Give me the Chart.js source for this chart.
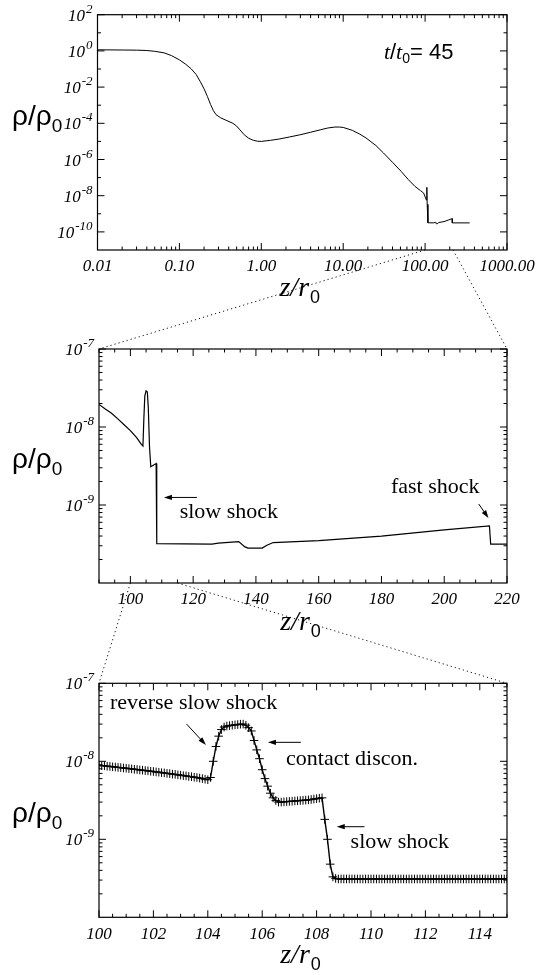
<!DOCTYPE html>
<html>
<head>
<meta charset="utf-8">
<script src="https://cdn.jsdelivr.net/npm/chart.js@4.4.1/dist/chart.umd.min.js"></script>
<style>
  html, body { margin: 0; padding: 0; background: #fff; }
  #wrap { position: relative; width: 547px; height: 975px; background: #fff; }
  canvas { position: absolute; left: 0; top: 0; }
</style>
</head>
<body>
<div id="wrap">
  <canvas id="p1" width="547" height="975"></canvas>
  <canvas id="p2" width="547" height="975"></canvas>
  <canvas id="p3" width="547" height="975"></canvas>
</div>
<script>
// ---- panel 1: whole jet, log-log ----
const z1 = [0.01, 0.02, 0.03, 0.04, 0.05, 0.065, 0.08, 0.1, 0.12, 0.14,
            0.16, 0.18, 0.2, 0.22, 0.24, 0.26, 0.28, 0.32, 0.38, 0.45,
            0.5, 0.55, 0.62, 0.7, 0.8, 0.9, 1.0, 1.3, 1.65, 2.2,
            2.95, 4, 5.3, 6.5, 7.9, 9, 10, 12.9, 16, 19,
            25, 31, 40, 51, 62, 75, 88, 96, 103.8, 105,
            106.1, 108.2, 108.4, 126, 135, 137, 143, 146, 170, 192,
            214.4, 214.8, 350];
const rho1 = [1.15, 1.12, 1.1, 1.05, 0.95, 0.78, 0.55, 0.32, 0.18, 0.1,
              0.05, 0.02, 0.008, 0.003, 0.0011, 5e-4, 3e-4, 2e-4, 1.4e-4, 1.0e-4,
              7e-5, 4.3e-5, 2.3e-5, 1.5e-5, 1.15e-5, 1.02e-5, 1.0e-5, 1.15e-5, 1.35e-5, 1.75e-5,
              2.3e-5, 3.2e-5, 4.4e-5, 5.5e-5, 6.2e-5, 6.2e-5, 5.9e-5, 4.1e-5, 2.5e-5, 1.55e-5,
              6e-6, 2.3e-6, 7e-7, 2.2e-7, 8e-8, 3.3e-8, 1.9e-8, 1.4e-8, 5.7e-9, 2.9e-8,
              3e-9, 3.3e-9, 3.2e-10, 3.15e-10, 3.4e-10, 2.8e-10, 2.9e-10, 3.3e-10, 3.7e-10, 4.5e-10,
              5.4e-10, 3.15e-10, 3.15e-10];
const xTicks1 = [0.01, 0.1, 1, 10, 100, 1000];
const xLabels1 = ['0.01', '0.10', '1.00', '10.00', '100.00', '1000.00'];
const yExp1 = [2, 0, -2, -4, -6, -8, -10];

// ---- panel 2: zoom 90..220 ----
const z2 = [90, 92, 94, 96, 98, 100, 102, 103.5, 104.0, 104.3,
            104.6, 105.0, 105.4, 105.7, 106.1, 106.5, 108.2, 108.4, 126, 128,
            134.5, 136.5, 137.5, 142, 143.5, 145.5, 160, 180, 200, 214.4,
            214.8, 220];
const rho2 = [1.95e-8, 1.7e-8, 1.5e-8, 1.27e-8, 1.07e-8, 9e-9, 7.3e-9, 6.0e-9, 5.7e-9, 1.3e-8,
              2.5e-8, 2.9e-8, 2.8e-8, 1.8e-8, 5.5e-9, 3.1e-9, 3.4e-9, 3.2e-10, 3.15e-10, 3.25e-10,
              3.4e-10, 2.9e-10, 2.8e-10, 2.8e-10, 3.05e-10, 3.3e-10, 3.5e-10, 4.0e-10, 4.8e-10, 5.4e-10,
              3.15e-10, 3.15e-10];
const xTicks2 = [100, 120, 140, 160, 180, 200, 220];
const xLabels2 = ['100', '120', '140', '160', '180', '200', '220'];
const yExp2 = [-7, -8, -9];

// ---- panel 3: grid points 100..115 ----
const z3 = [100.0, 100.1, 100.2, 100.3, 100.4, 100.5, 100.6, 100.7, 100.8, 100.9,
            101.0, 101.1, 101.2, 101.3, 101.4, 101.5, 101.6, 101.7, 101.8, 101.9,
            102.0, 102.1, 102.2, 102.3, 102.4, 102.5, 102.6, 102.7, 102.8, 102.9,
            103.0, 103.1, 103.2, 103.3, 103.4, 103.5, 103.6, 103.7, 103.8, 103.9,
            104.0, 104.1, 104.2, 104.3, 104.4, 104.5, 104.6, 104.7, 104.8, 104.9,
            105.0, 105.1, 105.2, 105.3, 105.4, 105.5, 105.6, 105.7, 105.8, 105.9,
            106.0, 106.1, 106.2, 106.3, 106.4, 106.5, 106.6, 106.7, 106.8, 106.9,
            107.0, 107.1, 107.2, 107.3, 107.4, 107.5, 107.6, 107.7, 107.8, 107.9,
            108.0, 108.1, 108.2, 108.3, 108.4, 108.5, 108.6, 108.7, 108.8, 108.9,
            109.0, 109.1, 109.2, 109.3, 109.4, 109.5, 109.6, 109.7, 109.8, 109.9,
            110.0, 110.1, 110.2, 110.3, 110.4, 110.5, 110.6, 110.7, 110.8, 110.9,
            111.0, 111.1, 111.2, 111.3, 111.4, 111.5, 111.6, 111.7, 111.8, 111.9,
            112.0, 112.1, 112.2, 112.3, 112.4, 112.5, 112.6, 112.7, 112.8, 112.9,
            113.0, 113.1, 113.2, 113.3, 113.4, 113.5, 113.6, 113.7, 113.8, 113.9,
            114.0, 114.1, 114.2, 114.3, 114.4, 114.5, 114.6, 114.7, 114.8, 114.9,
            115.0];
const rho3 = [8.9e-9, 8.8e-9, 8.75e-9, 8.65e-9, 8.6e-9, 8.5e-9, 8.45e-9, 8.35e-9, 8.3e-9, 8.2e-9,
              8.15e-9, 8.05e-9, 8.0e-9, 7.9e-9, 7.85e-9, 7.75e-9, 7.7e-9, 7.6e-9, 7.55e-9, 7.45e-9,
              7.4e-9, 7.3e-9, 7.25e-9, 7.15e-9, 7.1e-9, 7.0e-9, 6.95e-9, 6.85e-9, 6.8e-9, 6.7e-9,
              6.65e-9, 6.55e-9, 6.5e-9, 6.4e-9, 6.35e-9, 6.25e-9, 6.2e-9, 6.1e-9, 6.0e-9, 5.9e-9,
              5.8e-9, 6.2e-9, 1.0e-8, 1.55e-8, 2.1e-8, 2.55e-8, 2.75e-8, 2.83e-8, 2.87e-8, 2.9e-8,
              2.93e-8, 2.96e-8, 2.99e-8, 3.0e-8, 2.9e-8, 2.7e-8, 2.45e-8, 1.85e-8, 1.4e-8, 1.08e-8,
              7.8e-9, 6.0e-9, 4.8e-9, 3.9e-9, 3.4e-9, 3.15e-9, 3.0e-9, 3.0e-9, 3.02e-9, 3.04e-9,
              3.06e-9, 3.08e-9, 3.1e-9, 3.12e-9, 3.14e-9, 3.16e-9, 3.18e-9, 3.2e-9, 3.24e-9, 3.28e-9,
              3.32e-9, 3.36e-9, 3.4e-9, 1.8e-9, 1.0e-9, 4.8e-10, 3.3e-10, 3.15e-10, 3.1e-10, 3.1e-10,
              3.1e-10, 3.1e-10, 3.1e-10, 3.1e-10, 3.1e-10, 3.1e-10, 3.1e-10, 3.1e-10, 3.1e-10, 3.1e-10,
              3.1e-10, 3.1e-10, 3.1e-10, 3.1e-10, 3.1e-10, 3.1e-10, 3.1e-10, 3.1e-10, 3.1e-10, 3.1e-10,
              3.1e-10, 3.1e-10, 3.1e-10, 3.1e-10, 3.1e-10, 3.1e-10, 3.1e-10, 3.1e-10, 3.1e-10, 3.1e-10,
              3.1e-10, 3.1e-10, 3.1e-10, 3.1e-10, 3.1e-10, 3.1e-10, 3.1e-10, 3.1e-10, 3.1e-10, 3.1e-10,
              3.1e-10, 3.1e-10, 3.1e-10, 3.1e-10, 3.1e-10, 3.1e-10, 3.1e-10, 3.1e-10, 3.1e-10, 3.1e-10,
              3.1e-10, 3.1e-10, 3.1e-10, 3.1e-10, 3.1e-10, 3.1e-10, 3.1e-10, 3.1e-10, 3.1e-10, 3.1e-10,
              3.1e-10];
const xTicks3 = [100, 102, 104, 106, 108, 110, 112, 114];
const xLabels3 = ['100', '102', '104', '106', '108', '110', '112', '114'];
const yExp3 = [-7, -8, -9];

// z ranges blown up in the panel below
const zoomA = [100, 220];
const zoomB = [100, 115];

const SERIF = '"Liberation Serif", "Times New Roman", serif';
const SANS = '"Liberation Sans", Arial, sans-serif';

function logMinors(lo, hi) {
  let out = [];
  for (let e = lo; e < hi; e++) {
    for (let m = 2; m < 10; m++) out.push(m * Math.pow(10, e));
  }
  return out;
}
function steps(a, b, s) {
  let out = [];
  for (let v = a; v <= b + 1e-9; v += s) out.push(+v.toFixed(4));
  return out;
}

// decoration for each panel
const panels = {
  p1: {
    xMajor: xTicks1, xLabels: xLabels1, xMinor: logMinors(-2, 3),
    yMajor: yExp1.map(e => Math.pow(10, e)), yExp: yExp1,
    yMinor: [10, 0.1, 1e-3, 1e-5, 1e-7, 1e-9],
    labelY: 267, xTitleY: 296, yTitleY: 125,
    texts: [], arrows: [], time: {z: 31.4, v: 0.91}
  },
  p2: {
    xMajor: xTicks2, xLabels: xLabels2, xMinor: steps(90, 220, 5).filter(v => v % 20 !== 0),
    yMajor: yExp2.map(e => Math.pow(10, e)), yExp: yExp2,
    yMinor: logMinors(-10, -7),
    labelY: 600, xTitleY: 630, yTitleY: 468,
    texts: [{t: 'slow shock', z: 115.7, v: 8.1e-10}, {t: 'fast shock', z: 183, v: 1.69e-9}],
    arrows: [[121.2, 1.25e-9, 110.7, 1.25e-9], [211, 1.03e-9, 214.1, 6.8e-10]]
  },
  p3: {
    xMajor: xTicks3, xLabels: xLabels3, xMinor: steps(100, 115, 0.5).filter(v => v % 2 !== 0),
    yMajor: yExp3.map(e => Math.pow(10, e)), yExp: yExp3,
    yMinor: logMinors(-10, -7),
    labelY: 935, xTitleY: 963, yTitleY: 822,
    texts: [{t: 'reverse slow shock', z: 100.4, v: 5.6e-8},
            {t: 'contact discon.', z: 106.875, v: 1.06e-8},
            {t: 'slow shock', z: 109.25, v: 9.2e-10}],
    arrows: [[103.22, 3.0e-8, 103.93, 1.62e-8], [107.42, 1.75e-8, 106.21, 1.75e-8],
             [109.76, 1.45e-9, 108.74, 1.45e-9]]
  }
};

function arrow(ctx, x1, y1, x2, y2) {
  const ang = Math.atan2(y2 - y1, x2 - x1);
  ctx.beginPath();
  ctx.moveTo(x1, y1);
  ctx.lineTo(x2 - 6 * Math.cos(ang), y2 - 6 * Math.sin(ang));
  ctx.stroke();
  ctx.beginPath();
  ctx.moveTo(x2, y2);
  ctx.lineTo(x2 - 8 * Math.cos(ang) + 2.6 * Math.sin(ang), y2 - 8 * Math.sin(ang) - 2.6 * Math.cos(ang));
  ctx.lineTo(x2 - 8 * Math.cos(ang) - 2.6 * Math.sin(ang), y2 - 8 * Math.sin(ang) + 2.6 * Math.cos(ang));
  ctx.closePath();
  ctx.fill();
}

const framePlugin = {
  id: 'frame',
  afterDraw(chart) {
    const cfg = panels[chart.canvas.id];
    const ctx = chart.ctx;
    const a = chart.chartArea;
    const xs = chart.scales.x, ys = chart.scales.y;
    ctx.save();
    ctx.strokeStyle = '#000';
    ctx.fillStyle = '#000';
    ctx.lineWidth = 1.2;
    ctx.strokeRect(a.left, a.top, a.right - a.left, a.bottom - a.top);

    // inward ticks on all four sides
    ctx.lineWidth = 1;
    ctx.beginPath();
    const xt = (v, len) => {
      const p = xs.getPixelForValue(v);
      ctx.moveTo(p, a.bottom); ctx.lineTo(p, a.bottom - len);
      ctx.moveTo(p, a.top); ctx.lineTo(p, a.top + len);
    };
    const yt = (v, len) => {
      const p = ys.getPixelForValue(v);
      ctx.moveTo(a.left, p); ctx.lineTo(a.left + len, p);
      ctx.moveTo(a.right, p); ctx.lineTo(a.right - len, p);
    };
    cfg.xMajor.forEach(v => xt(v, 7));
    cfg.xMinor.forEach(v => xt(v, 3.5));
    cfg.yMajor.forEach(v => yt(v, 7));
    cfg.yMinor.forEach(v => yt(v, 3.5));
    ctx.stroke();

    // x tick labels
    ctx.font = 'italic 17px ' + SERIF;
    ctx.textAlign = 'center';
    ctx.textBaseline = 'middle';
    cfg.xMajor.forEach((v, i) => ctx.fillText(cfg.xLabels[i], xs.getPixelForValue(v), cfg.labelY));

    // y tick labels 10^n
    ctx.textBaseline = 'alphabetic';
    ctx.textAlign = 'left';
    cfg.yMajor.forEach((v, i) => {
      const p = ys.getPixelForValue(v);
      const ex = String(cfg.yExp[i]);
      ctx.font = 'italic 13px ' + SERIF;
      const ew = ctx.measureText(ex).width;
      ctx.font = 'italic 17px ' + SERIF;
      const bw = ctx.measureText('10').width;
      const right = a.left - 5;
      ctx.fillText('10', right - ew - bw - 1, p + 6);
      ctx.font = 'italic 13px ' + SERIF;
      ctx.fillText(ex, right - ew, p - 2);
    });

    // y title  rho/rho_0
    ctx.font = '28px ' + SANS;
    let x = 12;
    ctx.fillText('\u03c1/\u03c1', x, cfg.yTitleY);
    x += ctx.measureText('\u03c1/\u03c1').width;
    ctx.font = '19px ' + SANS;
    ctx.fillText('0', x, cfg.yTitleY + 7);

    // x title  z/r_0
    const mid = (a.left + a.right) / 2 - 3;
    ctx.font = 'italic 28px ' + SERIF;
    const w1 = ctx.measureText('z/r').width;
    ctx.font = '18px ' + SANS;
    const w2 = ctx.measureText('0').width;
    x = mid - (w1 + w2) / 2;
    ctx.font = 'italic 28px ' + SERIF;
    ctx.fillText('z/r', x, cfg.xTitleY);
    ctx.font = '18px ' + SANS;
    ctx.fillText('0', x + w1 + 1, cfg.xTitleY + 7);

    // annotations
    ctx.font = '22px ' + SERIF;
    ctx.textBaseline = 'middle';
    cfg.texts.forEach(t => ctx.fillText(t.t, xs.getPixelForValue(t.z), ys.getPixelForValue(t.v)));
    ctx.lineWidth = 1;
    cfg.arrows.forEach(r => arrow(ctx, xs.getPixelForValue(r[0]), ys.getPixelForValue(r[1]),
                                  xs.getPixelForValue(r[2]), ys.getPixelForValue(r[3])));
    if (cfg.time) {
      let tx = xs.getPixelForValue(cfg.time.z);
      const ty = ys.getPixelForValue(cfg.time.v) + 7;
      ctx.textBaseline = 'alphabetic';
      ctx.font = 'italic 22px ' + SERIF;
      ctx.fillText('t', tx, ty); tx += ctx.measureText('t').width;
      ctx.font = '22px ' + SANS;
      ctx.fillText('/', tx, ty); tx += ctx.measureText('/').width;
      ctx.font = 'italic 22px ' + SERIF;
      ctx.fillText('t', tx, ty); tx += ctx.measureText('t').width;
      ctx.font = '14px ' + SANS;
      ctx.fillText('0', tx, ty + 4); tx += ctx.measureText('0').width;
      ctx.font = '22px ' + SANS;
      ctx.fillText('= 45', tx, ty);
    }
    ctx.restore();
  }
};

let chart1, chart2, chart3;

// dotted zoom connectors, drawn on the top canvas
const connectorPlugin = {
  id: 'connector',
  afterDraw(chart) {
    if (!chart1 || !chart2) return;
    const ctx = chart.ctx;
    const a1 = chart1.chartArea, a2 = chart2.chartArea, a3 = chart.chartArea;
    ctx.save();
    ctx.strokeStyle = '#111';
    ctx.lineWidth = 1;
    ctx.setLineDash([1.2, 3]);
    ctx.beginPath();
    ctx.moveTo(chart1.scales.x.getPixelForValue(zoomA[0]), a1.bottom); ctx.lineTo(a2.left, a2.top);
    ctx.moveTo(chart1.scales.x.getPixelForValue(zoomA[1]), a1.bottom); ctx.lineTo(a2.right, a2.top);
    ctx.moveTo(chart2.scales.x.getPixelForValue(zoomB[0]), a2.bottom); ctx.lineTo(a3.left, a3.top);
    ctx.moveTo(chart2.scales.x.getPixelForValue(zoomB[1]), a2.bottom); ctx.lineTo(a3.right, a3.top);
    ctx.stroke();
    ctx.restore();
  }
};

function makeChart(id, xs, ys, xScale, yScale, pad, extra) {
  const pts = xs.map((v, i) => ({x: v, y: ys[i]}));
  const ds = Object.assign({
    data: pts, showLine: true, borderColor: '#000', borderWidth: 1,
    pointRadius: 0, tension: 0
  }, extra || {});
  return new Chart(document.getElementById(id), {
    type: 'scatter',
    data: {datasets: [ds]},
    options: {
      responsive: false,
      animation: false,
      events: [],
      layout: {padding: pad},
      plugins: {legend: {display: false}, tooltip: {enabled: false}},
      scales: {
        x: Object.assign({display: false}, xScale),
        y: Object.assign({display: false}, yScale)
      }
    },
    plugins: id === 'p3' ? [framePlugin, connectorPlugin] : [framePlugin]
  });
}

chart1 = makeChart('p1', z1, rho1,
  {type: 'logarithmic', min: 0.01, max: 1000},
  {type: 'logarithmic', min: 1e-11, max: 100},
  {left: 97.5, top: 14.7, right: 40, bottom: 725});

chart2 = makeChart('p2', z2, rho2,
  {type: 'linear', min: 90, max: 220},
  {type: 'logarithmic', min: 1e-10, max: 1e-7},
  {left: 99, top: 349, right: 40, bottom: 392}, {borderWidth: 1.2});

chart3 = makeChart('p3', z3, rho3,
  {type: 'linear', min: 100, max: 115},
  {type: 'logarithmic', min: 1e-10, max: 1e-7},
  {left: 99, top: 683.3, right: 40, bottom: 57.7},
  {borderWidth: 1.4, pointStyle: 'cross', pointRadius: 4.3, pointBorderWidth: 1, pointBorderColor: '#000'});
</script>
</body>
</html>
